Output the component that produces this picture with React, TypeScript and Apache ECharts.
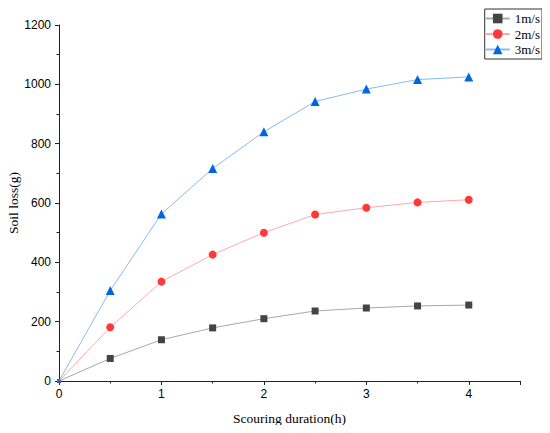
import React, { useEffect, useRef } from "react";
import * as echarts from "echarts";

const durations = [0, 0.5, 1, 1.5, 2, 2.5, 3, 3.5, 4];
const loss1 = [0, 76, 139, 179, 210, 236, 246, 253, 256];
const loss2 = [0, 181, 335, 426, 500, 561, 584, 602, 611];
const loss3 = [0, 305, 563, 716, 840, 942, 984, 1016, 1025];
const seriesNames = ["1m/s", "2m/s", "3m/s"];

const build = (vals: number[], firstSize: number) =>
  vals.map((v, i) =>
    i === 0 ? { value: [durations[i], v], symbolSize: firstSize } : [durations[i], v]
  );

export default function App() {
  const ref = useRef<HTMLDivElement>(null);
  useEffect(() => {
    if (!ref.current) return;
    const chart = echarts.init(ref.current, undefined, { renderer: "svg" });
    const axisCommon = {
      axisLine: { show: true, lineStyle: { color: "#222", width: 1 } },
      axisTick: { show: true, inside: false, length: 4, lineStyle: { color: "#222" } },
      minorTick: { show: true, splitNumber: 2, length: 2.5, lineStyle: { color: "#222" } },
      splitLine: { show: false },
      axisLabel: { color: "#000", fontFamily: "Liberation Sans, Arial", fontSize: 12, margin: 8 },
      nameTextStyle: { color: "#000", fontFamily: "Liberation Serif, Times New Roman", fontSize: 13.5 },
      nameMoveOverlap: false,
    };
    chart.setOption({
      animation: false,
      backgroundColor: "#fff",
      grid: { left: 59, right: 30, top: 25, bottom: 52, containLabel: false, outerBoundsMode: "none" },
      legend: {
        right: 8,
        top: 9,
        orient: "vertical",
        data: seriesNames,
        borderColor: "#333",
        borderWidth: 1,
        padding: [3, 2, 3, 0],
        itemGap: 2.5,
        itemWidth: 24,
        itemHeight: 12,
        textStyle: { color: "#000", fontFamily: "Liberation Serif, Times New Roman", fontSize: 13 },
      },
      xAxis: {
        type: "value",
        min: 0,
        max: 4.5,
        interval: 1,
        name: "Scouring duration(h)",
        nameLocation: "middle",
        nameGap: 30,
        ...axisCommon,
        axisLabel: {
          ...axisCommon.axisLabel,
          margin: 7,
          formatter: (v: number) => (v === 4.5 ? "" : String(v)),
        },
      },
      yAxis: {
        type: "value",
        min: 0,
        max: 1200,
        interval: 200,
        name: "Soil loss(g)",
        nameLocation: "middle",
        nameGap: 39,
        ...axisCommon,
        axisLabel: {
          ...axisCommon.axisLabel,
          formatter: (v: number) => String(v),
        },
      },
      series: [
        {
          name: seriesNames[0],
          type: "line",
          data: build(loss1, 4),
          symbol: "rect",
          symbolSize: 7,
          itemStyle: { color: "#444444" },
          lineStyle: { color: "#a8a8a8", width: 1 },
          z: 3,
        },
        {
          name: seriesNames[1],
          type: "line",
          data: build(loss2, 4),
          symbol: "circle",
          symbolSize: 8,
          itemStyle: { color: "#ff3838" },
          lineStyle: { color: "#ffa8a8", width: 1 },
          z: 4,
        },
        {
          name: seriesNames[2],
          type: "line",
          data: build(loss3, 4),
          symbol: "triangle",
          symbolSize: 9,
          itemStyle: { color: "#0066dd" },
          lineStyle: { color: "#88bbf0", width: 1 },
          z: 5,
        },
      ],
    });
    return () => chart.dispose();
  }, []);
  return <div ref={ref} style={{ width: 550, height: 433, margin: -8 }} />;
}
